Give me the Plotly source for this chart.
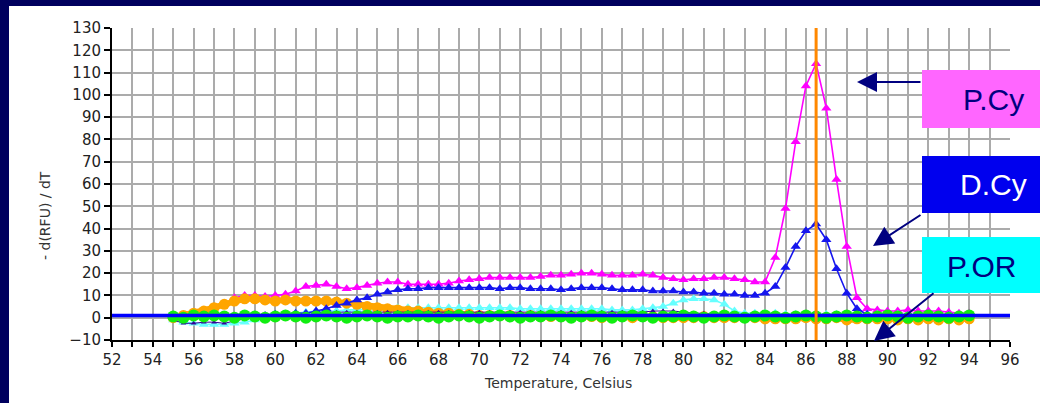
import plotly.graph_objects as go

# Melt-curve derivative data, sampled every 0.5 °C
temperature = [55.0, 55.5, 56.0, 56.5, 57.0, 57.5, 58.0, 58.5, 59.0, 59.5,
               60.0, 60.5, 61.0, 61.5, 62.0, 62.5, 63.0, 63.5, 64.0, 64.5,
               65.0, 65.5, 66.0, 66.5, 67.0, 67.5, 68.0, 68.5, 69.0, 69.5,
               70.0, 70.5, 71.0, 71.5, 72.0, 72.5, 73.0, 73.5, 74.0, 74.5,
               75.0, 75.5, 76.0, 76.5, 77.0, 77.5, 78.0, 78.5, 79.0, 79.5,
               80.0, 80.5, 81.0, 81.5, 82.0, 82.5, 83.0, 83.5, 84.0, 84.5,
               85.0, 85.5, 86.0, 86.5, 87.0, 87.5, 88.0, 88.5, 89.0, 89.5,
               90.0, 90.5, 91.0, 91.5, 92.0, 92.5, 93.0, 93.5, 94.0]

p_cy = [None, None, None, None, None, 6, 9, 10, 10, 9.5,
        10, 10.5, 12, 14, 14.5, 15, 14, 13, 13.5, 14.5,
        15.5, 16, 16, 15, 15, 15, 15, 15.5, 16.5, 17,
        17.5, 18, 18, 18, 18, 18, 18.5, 19, 19, 19.5,
        20, 20, 19.5, 19, 19, 19, 19.5, 19, 18, 17.5,
        17, 17.5, 17.5, 18, 18, 17.5, 17, 16, 16, 27,
        49, 79, 104, 114, 94, 62, 32, 9, 4, 3.5,
        3, 3, 3.5, 3, 3, 3, 2.5, 2, 2]

d_cy = [0.5, 0.5, 0.5, 0.5, 0.5, 0.5, 0.5, 0.5, 1, 1,
        1.5, 1.5, 2, 2, 3, 4, 5.5, 6.5, 8, 9,
        10.5, 11.5, 12.5, 13, 13, 13.5, 13.5, 13.5, 13.5, 13.5,
        13.5, 13.5, 13, 13.5, 13.5, 13, 13, 13, 12.5, 13,
        13.5, 13.5, 13.5, 13, 12.5, 12.5, 12.5, 12, 12, 12,
        11.5, 11.5, 11, 11, 10.5, 10.5, 10, 10, 11, 14,
        22.5, 32, 39, 42, 35, 22, 11, 4, 1.5, 1,
        1, 1, 1, 1, 1, 1, 1, 1, 1]

p_or = [-1, -2, -2.5, -3, -3, -3, -2.5, -2, -1, 0,
        1, 1.5, 2, 2.5, 3, 3, 3, 3.5, 3.5, 4,
        4, 4, 4.5, 4.5, 4.5, 4.5, 4.5, 4.5, 4.5, 4.5,
        4.5, 4.5, 4.5, 4.5, 4, 4, 4, 4, 4, 4,
        4, 4, 4, 3.5, 3.5, 3.5, 4, 4.5, 5, 6.5,
        8, 8.5, 8.5, 8, 6, 3, 2, 2, 2, 2,
        1.5, 1.5, 1.5, 1.5, 1.5, 1.5, 1.5, 1.5, 1.5, 1.5,
        1.5, 1.5, 1, 1, 1, 1, 1, 1, 1]

orange_curve = [0, 1, 2, 3, 4.5, 6, 7.5, 8.5, 8.5, 8,
                7.5, 8, 7.5, 7.5, 7.5, 7.5, 7, 6.5, 6, 5,
                4.5, 4, 3.5, 3, 3, 2.5, 2, 2, 1.5, 1.5,
                1, 1, 1, 1, 0.5, 1, 0.5, 0.5, 0.5, 0.5,
                0.5, 0.5, 0, 0.5, 0.5, 0, 0.5, 0.5, 0, 0,
                0, 0, 0.5, 0, 0, 0, 0, 0, -0.5, -0.5,
                -0.5, -0.5, 0, -0.5, -0.5, 0, -1, -0.5, -0.5, -0.5,
                -0.5, -1, -0.5, -1, -0.5, -1, -0.5, -1, -0.5]

navy_curve = [-1, -2.5, -2.5, -2, -2, -2.5, -1.5, -0.5, 0.5, 1.5,
              1.5, 2, 2, 2, 2.5, 2.5, 2.5, 2.5, 2.5, 2.5,
              2.5, 2.5, 2.5, 2.5, 2.5, 2.5, 2.5, 2.5, 2.5, 2.5,
              2.5, 2.5, 2.5, 2.5, 2.5, 2.5, 2.5, 2.5, 2.5, 2.5,
              2.5, 2.5, 2.5, 2.5, 2.5, 2.5, 2.5, 3, 3, 3,
              2.5, 2, 2, 1.5, 1.5, 1, 1, 1, 1, 1,
              0.5, 0.5, 0.5, 0.5, 0.5, 0.5, 0.5, 0.5, 0.5, 0.5,
              0.5, 0.5, 0.5, 0.5, 0.5, 0.5, 0.5, 0.5, 0.5]

green_curve = [0.5, 0.0, 1.0, 0.5, 1.0, 0.5, 0.0, 1.0, 0.5, 0.0,
               0.5, 1.0, 0.5, 0.0, 0.5, 1.0, 0.5, 0.0, 0.5, 1.0,
               0.5, 0.0, 0.5, 0.5, 1.0, 0.5, 0.0, 0.5, 1.0, 0.5,
               0.0, 0.5, 1.0, 0.5, 0.0, 0.5, 0.5, 1.0, 0.5, 0.0,
               0.5, 1.0, 0.5, 0.0, 0.5, 1.0, 0.5, 0.0, 0.5, 0.5,
               1.0, 0.5, 0.0, 0.5, 1.0, 0.5, 0.0, 0.5, 1.0, 0.5,
               0.0, 0.5, 1.0, 0.5, 0.0, 0.5, 1.0, 0.5, 0.0, 0.5,
               1.0, 0.5, 0.0, 0.5, 1.0, 0.5, 0.0, 0.5, 1.0]

threshold = 1.0
melt_peak = 86.5
x_range = [52, 96]
y_range = [-10, 130]

# Figure geometry (pixels)
W, H = 1040, 403
L, R, T, B = 112, 30, 28, 63
PW, PH = W - L - R, H - T - B


def px(x):
    return (x - L) / PW


def py(y):
    return (H - B - y) / PH


fig = go.Figure()

fig.add_trace(go.Scatter(
    x=temperature, y=p_cy, mode="lines+markers",
    line=dict(color="#ff00ff", width=1.6),
    marker=dict(symbol="triangle-up", size=9, color="#ff00ff")))

fig.add_trace(go.Scatter(
    x=temperature, y=p_or, mode="lines+markers",
    line=dict(color="#66ffff", width=1.6),
    marker=dict(symbol="triangle-up", size=9, color="#66ffff")))

fig.add_trace(go.Scatter(
    x=temperature, y=orange_curve, mode="lines+markers",
    line=dict(color="#ffa500", width=6),
    marker=dict(symbol="circle", size=11, color="#ffa500")))

fig.add_trace(go.Scatter(
    x=temperature, y=navy_curve, mode="lines+markers",
    line=dict(color="#330099", width=1),
    marker=dict(symbol="triangle-up", size=5, color="#330099")))

fig.add_trace(go.Scatter(
    x=temperature, y=d_cy, mode="lines+markers",
    line=dict(color="#1515ee", width=1.6),
    marker=dict(symbol="triangle-up", size=9, color="#1515ee")))

fig.add_trace(go.Scatter(
    x=temperature, y=green_curve, mode="lines+markers",
    line=dict(color="#11ee11", width=6),
    marker=dict(symbol="circle", size=12, color="#11ee11")))

# Threshold line and melt-peak marker line
fig.add_trace(go.Scatter(
    x=x_range, y=[threshold, threshold], mode="lines",
    line=dict(color="#0000ff", width=3.5)))

fig.add_trace(go.Scatter(
    x=[melt_peak, melt_peak], y=y_range, mode="lines",
    line=dict(color="#ff8800", width=3)))

grid = "#ababab"
tick_font = dict(family="DejaVu Sans", size=15, color="#222222")

fig.update_xaxes(
    range=x_range, tick0=52, dtick=2, showgrid=True, gridcolor=grid, gridwidth=1.5,
    ticks="outside", ticklen=5, tickwidth=1.5, tickcolor="black",
    showline=True, linecolor="black", linewidth=2, zeroline=False,
    tickfont=tick_font,
    minor=dict(dtick=1, showgrid=True, gridcolor=grid, gridwidth=1.5,
               ticks="outside", ticklen=5, tickwidth=1.5, tickcolor="black"))

fig.update_yaxes(
    range=y_range, tick0=0, dtick=10, showgrid=True, gridcolor=grid, gridwidth=1.5,
    ticks="outside", ticklen=6, tickwidth=1.5, tickcolor="black",
    showline=True, linecolor="black", linewidth=2, zeroline=False,
    tickfont=tick_font)

shapes = [
    # dark slide frame along the top and left edges
    dict(type="rect", xref="paper", yref="paper", x0=px(-5), x1=px(9), y0=py(-5), y1=py(H + 5),
         fillcolor="#00005e", line=dict(width=0), layer="above"),
    dict(type="rect", xref="paper", yref="paper", x0=px(-5), x1=px(W + 5), y0=py(6), y1=py(-5),
         fillcolor="#00005e", line=dict(width=0), layer="above"),
    # label boxes
    dict(type="rect", xref="paper", yref="paper", x0=px(922), x1=px(W + 10), y0=py(128), y1=py(70),
         fillcolor="#ff66ff", line=dict(width=0), layer="above"),
    dict(type="rect", xref="paper", yref="paper", x0=px(922), x1=px(W + 10), y0=py(213), y1=py(156),
         fillcolor="#0000ee", line=dict(width=0), layer="above"),
    dict(type="rect", xref="paper", yref="paper", x0=px(922), x1=px(W + 10), y0=py(293), y1=py(237),
         fillcolor="#00ffff", line=dict(width=0), layer="above"),
]

label_font = "Liberation Sans, Arial, sans-serif"
annotations = [
    dict(text="P.Cy", x=px(993), y=py(100), xref="paper", yref="paper", showarrow=False,
         xanchor="center", yanchor="middle", font=dict(family=label_font, size=30, color="#000080")),
    dict(text="D.Cy", x=px(993), y=py(184), xref="paper", yref="paper", showarrow=False,
         xanchor="center", yanchor="middle", font=dict(family=label_font, size=30, color="#ffffff")),
    dict(text="P.OR", x=px(981), y=py(266), xref="paper", yref="paper", showarrow=False,
         xanchor="center", yanchor="middle", font=dict(family=label_font, size=30, color="#000080")),
    # arrows from the label boxes towards the curves
    dict(text="", x=px(857), y=py(82), xref="paper", yref="paper", ax=65, ay=0,
         showarrow=True, arrowhead=2, arrowsize=2, arrowwidth=2, arrowcolor="#000080", standoff=0),
    dict(text="", x=px(873), y=py(246), xref="paper", yref="paper", ax=49, ay=-32,
         showarrow=True, arrowhead=2, arrowsize=2, arrowwidth=2, arrowcolor="#000080", standoff=0),
    dict(text="", x=px(874), y=py(341), xref="paper", yref="paper", ax=61, ay=-49,
         showarrow=True, arrowhead=2, arrowsize=2, arrowwidth=2, arrowcolor="#000080", standoff=0),
    # axis titles
    dict(text="Temperature, Celsius", x=px(558), y=py(383), xref="paper", yref="paper",
         showarrow=False, xanchor="center", yanchor="middle",
         font=dict(family="DejaVu Sans", size=14, color="#333333")),
    dict(text="- d(RFU) / dT", x=px(45), y=py(216), xref="paper", yref="paper",
         showarrow=False, xanchor="center", yanchor="middle", textangle=-90,
         font=dict(family="DejaVu Sans", size=14, color="#333333")),
]

fig.update_layout(
    width=W, height=H,
    margin=dict(l=L, r=R, t=T, b=B),
    paper_bgcolor="white", plot_bgcolor="white",
    showlegend=False,
    shapes=shapes,
    annotations=annotations,
)

fig.write_html("out.html")
